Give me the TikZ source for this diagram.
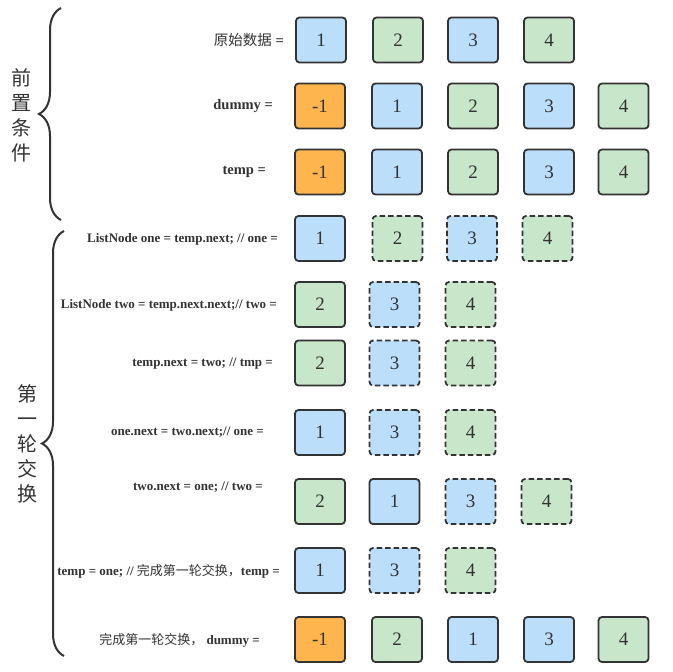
\documentclass[tikz,border=0pt]{standalone}
\usepackage{fontspec}
\setmainfont{Liberation Serif}
\newfontfamily\cjk{Noto Sans CJK SC}
\usetikzlibrary{decorations.pathreplacing}
\definecolor{ink}{RGB}{51,51,51}
\definecolor{cellblue}{RGB}{187,222,251}
\definecolor{cellgreen}{RGB}{200,230,201}
\definecolor{cellorange}{RGB}{255,181,77}

\tikzset{
  cell/.style={draw=ink, line width=1.8pt, rounded corners=3.5pt, minimum width=50pt,
               minimum height=45pt, inner sep=0pt, text=ink, font=\fontsize{19}{19}\selectfont},
  cblue/.style={cell, fill=cellblue},
  cgreen/.style={cell, fill=cellgreen},
  corange/.style={cell, fill=cellorange},
  ghost/.style={dash pattern=on 5.5pt off 3pt},
  headlabel/.style={anchor=east, inner sep=0pt, text=ink, font=\fontsize{14.5}{16}\selectfont\bfseries},
  codelabel/.style={anchor=east, inner sep=0pt, text=ink, font=\fontsize{13}{15}\selectfont\bfseries},
  sidelabel/.style={text=ink, align=center, inner sep=0pt, font=\cjk\fontsize{20}{25}\selectfont},
  bracepath/.style={draw=ink, line width=2pt, decorate, decoration={brace, amplitude=22pt}}
}

\begin{document}
\begin{tikzpicture}[x=1pt, y=-1pt]
  \useasboundingbox (0,0) rectangle (672,672);
  % preconditions
  \node[headlabel] (lraw) at (284,40) {{\cjk\mdseries 原始数据} =};
  \node[cblue]  (raw1) at (321,40) {1};
  \node[cgreen] (raw2) at (398,40) {2};
  \node[cblue]  (raw3) at (473,40) {3};
  \node[cgreen] (raw4) at (549,40) {4};

  \node[headlabel] (ldum) at (273,106) {dummy =};
  \node[corange] (dum0) at (320,106) {-1};
  \node[cblue]   (dum1) at (397,106) {1};
  \node[cgreen]  (dum2) at (473,106) {2};
  \node[cblue]   (dum3) at (549,106) {3};
  \node[cgreen]  (dum4) at (623.5,106) {4};

  \node[headlabel] (ltmp) at (266,172) {temp =};
  \node[corange] (tmp0) at (320,172) {-1};
  \node[cblue]   (tmp1) at (397,172) {1};
  \node[cgreen]  (tmp2) at (473,172) {2};
  \node[cblue]   (tmp3) at (549,172) {3};
  \node[cgreen]  (tmp4) at (623.5,172) {4};

  % first round of swapping
  \node[codelabel] (lone) at (278,239) {ListNode one = temp.next; // one =};
  \node[cblue]         (one1) at (320,238.5) {1};
  \node[cgreen, ghost] (one2) at (397.5,238.5) {2};
  \node[cblue, ghost]  (one3) at (472,238.5) {3};
  \node[cgreen, ghost] (one4) at (547.5,238.5) {4};

  \node[codelabel] (ltwo) at (277,305) {ListNode two = temp.next.next;// two =};
  \node[cgreen]        (two2) at (320,304.5) {2};
  \node[cblue, ghost]  (two3) at (394.5,304.5) {3};
  \node[cgreen, ghost] (two4) at (470.5,304.5) {4};

  \node[codelabel] (llink) at (273,364) {temp.next = two; // tmp =};
  \node[cgreen]        (link2) at (320,363) {2};
  \node[cblue, ghost]  (link3) at (394.5,363) {3};
  \node[cgreen, ghost] (link4) at (470.5,363) {4};

  \node[codelabel] (lskip) at (264,432) {one.next = two.next;// one =};
  \node[cblue]         (skip1) at (320,432.5) {1};
  \node[cblue, ghost]  (skip3) at (394.5,432.5) {3};
  \node[cgreen, ghost] (skip4) at (470.5,432.5) {4};

  \node[codelabel] (lback) at (263,487) {two.next = one; // two =};
  \node[cgreen]        (back2) at (320,501.5) {2};
  \node[cblue]         (back1) at (394.5,501.5) {1};
  \node[cblue, ghost]  (back3) at (470.5,501.5) {3};
  \node[cgreen, ghost] (back4) at (546.5,501.5) {4};

  \node[codelabel] (lmove) at (280,571) {temp = one; // {\cjk\mdseries 完成第一轮交换，}temp =};
  \node[cblue]         (move1) at (320,570.5) {1};
  \node[cblue, ghost]  (move3) at (394.5,570.5) {3};
  \node[cgreen, ghost] (move4) at (470.5,570.5) {4};

  \node[codelabel] (ldone) at (260,640) {{\cjk\mdseries 完成第一轮交换，} dummy =};
  \node[corange] (done0) at (320,639.5) {-1};
  \node[cgreen]  (done2) at (397,639.5) {2};
  \node[cblue]   (done1) at (473,639.5) {1};
  \node[cblue]   (done3) at (549,639.5) {3};
  \node[cgreen]  (done4) at (623.5,639.5) {4};

  % braces with their captions
  \coordinate (preTop) at (61,8);
  \coordinate (preBot) at (61,220);
  \draw[bracepath] (preBot) -- (preTop);
  \node[sidelabel] (pre) at (22,115.5) {前\\置\\条\\件};

  \coordinate (swapTop) at (64,231);
  \coordinate (swapBot) at (64,656);
  \draw[bracepath] (swapBot) -- (swapTop);
  \node[sidelabel] (swap) at (27,444) {第\\一\\轮\\交\\换};
\end{tikzpicture}
\end{document}
